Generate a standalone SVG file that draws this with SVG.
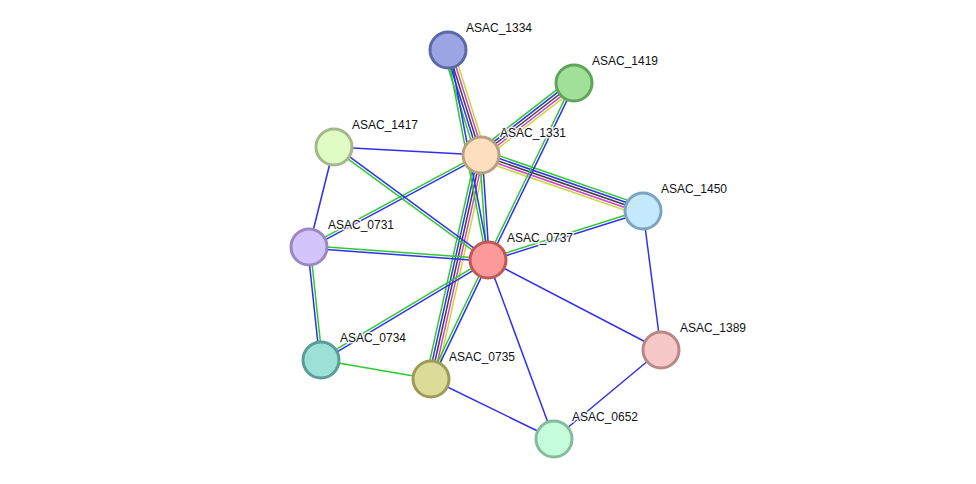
<svg xmlns="http://www.w3.org/2000/svg" width="976" height="484" viewBox="0 0 976 484">
<style>
line{stroke-width:1.5;fill:none}
.g{stroke:#30c830}.b{stroke:#3030f0}.k{stroke:#404040}.m{stroke:#d040d0}.y{stroke:#c8d832}
circle{stroke-width:3}
text{font-family:"Liberation Sans",Arial,sans-serif;font-size:12px;fill:#111;stroke:#fff;stroke-width:3;stroke-opacity:0.85;paint-order:stroke;stroke-linejoin:round}
</style>
<rect width="976" height="484" fill="#fff"/>
<g id="connectors">
<g transform="translate(448,50) rotate(72.55)"><line class="g" x1="0" y1="5.2" x2="110.1" y2="5.2"/><line class="b" x1="0" y1="2.6" x2="110.1" y2="2.6"/><line class="k" x1="0" y1="0" x2="110.1" y2="0"/><line class="m" x1="0" y1="-2.6" x2="110.1" y2="-2.6"/><line class="y" x1="0" y1="-5.2" x2="110.1" y2="-5.2"/></g>
<g transform="translate(481,155) rotate(-37.75)"><line class="g" x1="0" y1="-5.2" x2="117.6" y2="-5.2"/><line class="b" x1="0" y1="-2.6" x2="117.6" y2="-2.6"/><line class="k" x1="0" y1="0" x2="117.6" y2="0"/><line class="m" x1="0" y1="2.6" x2="117.6" y2="2.6"/><line class="y" x1="0" y1="5.2" x2="117.6" y2="5.2"/></g>
<g transform="translate(481,155) rotate(19.07)"><line class="g" x1="0" y1="-5.2" x2="171.4" y2="-5.2"/><line class="b" x1="0" y1="-2.6" x2="171.4" y2="-2.6"/><line class="k" x1="0" y1="0" x2="171.4" y2="0"/><line class="m" x1="0" y1="2.6" x2="171.4" y2="2.6"/><line class="y" x1="0" y1="5.2" x2="171.4" y2="5.2"/></g>
<g transform="translate(481,155) rotate(102.58)"><line class="g" x1="0" y1="5.2" x2="229.5" y2="5.2"/><line class="b" x1="0" y1="2.6" x2="229.5" y2="2.6"/><line class="k" x1="0" y1="0" x2="229.5" y2="0"/><line class="m" x1="0" y1="-2.6" x2="229.5" y2="-2.6"/><line class="y" x1="0" y1="-5.2" x2="229.5" y2="-5.2"/></g>
<g transform="translate(481,155) rotate(86.19)"><line class="g" x1="0" y1="1.3" x2="105.2" y2="1.3"/><line class="b" x1="0" y1="-1.3" x2="105.2" y2="-1.3"/></g>
<g transform="translate(448,50) rotate(79.22)"><line class="g" x1="0" y1="1.3" x2="213.8" y2="1.3"/><line class="b" x1="0" y1="-1.3" x2="213.8" y2="-1.3"/></g>
<g transform="translate(309,247) rotate(-28.14)"><line class="g" x1="0" y1="-1.3" x2="195.1" y2="-1.3"/><line class="b" x1="0" y1="1.3" x2="195.1" y2="1.3"/></g>
<g transform="translate(574,83) rotate(115.91)"><line class="g" x1="0" y1="1.3" x2="196.8" y2="1.3"/><line class="b" x1="0" y1="-1.3" x2="196.8" y2="-1.3"/></g>
<g transform="translate(643,211) rotate(162.46)"><line class="g" x1="0" y1="1.3" x2="162.6" y2="1.3"/><line class="b" x1="0" y1="-1.3" x2="162.6" y2="-1.3"/></g>
<g transform="translate(334,147) rotate(36.27)"><line class="g" x1="0" y1="1.3" x2="191" y2="1.3"/><line class="b" x1="0" y1="-1.3" x2="191" y2="-1.3"/></g>
<g transform="translate(309,247) rotate(4.15)"><line class="g" x1="0" y1="-1.3" x2="179.5" y2="-1.3"/><line class="b" x1="0" y1="1.3" x2="179.5" y2="1.3"/></g>
<g transform="translate(309,247) rotate(83.94)"><line class="g" x1="0" y1="-1.3" x2="113.6" y2="-1.3"/><line class="b" x1="0" y1="1.3" x2="113.6" y2="1.3"/></g>
<g transform="translate(321,360) rotate(-30.91)"><line class="g" x1="0" y1="-1.3" x2="194.7" y2="-1.3"/><line class="b" x1="0" y1="1.3" x2="194.7" y2="1.3"/></g>
<g transform="translate(431,379) rotate(-64.41)"><line class="g" x1="0" y1="-1.3" x2="131.9" y2="-1.3"/><line class="b" x1="0" y1="1.3" x2="131.9" y2="1.3"/></g>
<line class="b" x1="334" y1="147" x2="481" y2="155"/>
<line class="b" x1="334" y1="147" x2="309" y2="247"/>
<line class="g" x1="321" y1="360" x2="431" y2="379"/>
<line class="b" x1="431" y1="379" x2="554" y2="439"/>
<line class="b" x1="488" y1="260" x2="554" y2="439"/>
<line class="b" x1="488" y1="260" x2="661" y2="350"/>
<line class="b" x1="643" y1="211" x2="661" y2="350"/>
<line class="b" x1="661" y1="350" x2="554" y2="439"/>
</g>
<g id="ASAC_1334"><circle cx="448" cy="50" r="18" fill="#9ba5e3" stroke="#5c68a8"/><text x="466" y="32">ASAC_1334</text></g>
<g id="ASAC_1419"><circle cx="574" cy="83" r="18" fill="#a0e098" stroke="#5ea55a"/><text x="592" y="65">ASAC_1419</text></g>
<g id="ASAC_1417"><circle cx="334" cy="147" r="18" fill="#e0fcc4" stroke="#a6b88a"/><text x="352" y="129">ASAC_1417</text></g>
<g id="ASAC_1331"><circle cx="481" cy="155" r="18" fill="#fddfc0" stroke="#b8a080"/><text x="500" y="137">ASAC_1331</text></g>
<g id="ASAC_1450"><circle cx="643" cy="211" r="18" fill="#c4e8fc" stroke="#7aa4c0"/><text x="661" y="193">ASAC_1450</text></g>
<g id="ASAC_0731"><circle cx="309" cy="247" r="18" fill="#d4c4fc" stroke="#9a88c4"/><text x="328" y="229">ASAC_0731</text></g>
<g id="ASAC_0737"><circle cx="488" cy="260" r="18" fill="#fc9a9a" stroke="#c05858"/><text x="507" y="242">ASAC_0737</text></g>
<g id="ASAC_1389"><circle cx="661" cy="350" r="18" fill="#f8c8c8" stroke="#b88888"/><text x="680" y="332">ASAC_1389</text></g>
<g id="ASAC_0734"><circle cx="321" cy="360" r="18" fill="#9ce0d8" stroke="#5a9c96"/><text x="340" y="342">ASAC_0734</text></g>
<g id="ASAC_0735"><circle cx="431" cy="379" r="18" fill="#dcdc98" stroke="#9c9c58"/><text x="449" y="361">ASAC_0735</text></g>
<g id="ASAC_0652"><circle cx="554" cy="439" r="18" fill="#c4fcdc" stroke="#84bc9c"/><text x="572" y="421">ASAC_0652</text></g>
</svg>
